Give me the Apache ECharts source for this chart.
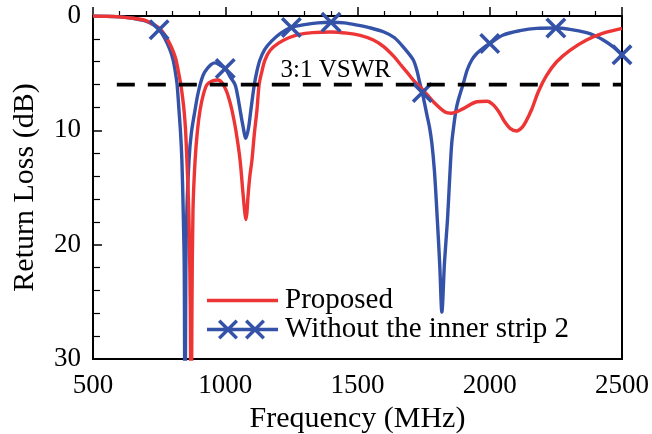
<!DOCTYPE html>
<html>
<head>
<meta charset="utf-8">
<title>Return Loss</title>
<script src="https://cdn.jsdelivr.net/npm/echarts@6/dist/echarts.min.js"></script>
<style>
  html, body { margin: 0; padding: 0; background: #ffffff; }
  #chart { width: 652px; height: 434px; }
</style>
</head>
<body>
<div id="chart"></div>
<script>
// Frequency axis (MHz) and return loss axis (dB)
var xTicks = [500, 1000, 1500, 2000, 2500];
var yTicks = [0, 10, 20, 30];

// Proposed antenna: frequency (MHz) and return loss (dB)
var proposedFreq = [500, 550, 600, 650, 700, 730, 750, 770, 790, 805, 814, 824, 832, 838, 844, 850, 855, 860, 864, 868, 871, 874, 878, 886, 895, 905, 918, 931, 950, 973, 990, 1005, 1015, 1025, 1040, 1056, 1067, 1074, 1078, 1082, 1086, 1093, 1101, 1110, 1120, 1128, 1138, 1150, 1170, 1200, 1240, 1280, 1330, 1400, 1460, 1510, 1560, 1600, 1640, 1661, 1690, 1711, 1749, 1787, 1831, 1855, 1900, 1951, 1990, 2015, 2035, 2055, 2078, 2102, 2120, 2135, 2158, 2184, 2215, 2253, 2303, 2366, 2429, 2500];
var proposedRL = [0, 0.02, 0.08, 0.2, 0.4, 0.75, 1.05, 1.6, 2.4, 3.2, 3.85, 5, 6, 7, 8.2, 10, 12.6, 15.5, 19, 26, 40, 26, 17, 12.6, 10, 8.2, 6.8, 6, 5.7, 5.6, 5.9, 6.6, 7.3, 8.2, 10, 12.6, 15.5, 17.2, 17.8, 17.2, 15.8, 14, 12.6, 10.3, 8.2, 6, 4.9, 3.85, 3, 2.4, 1.9, 1.6, 1.45, 1.4, 1.5, 1.7, 2.1, 2.7, 3.6, 4.2, 5.0, 5.6, 6.5, 7.5, 8.4, 8.5, 8.1, 7.5, 7.45, 7.8, 8.4, 9.2, 9.85, 10.06, 9.8, 9.3, 8.2, 6.6, 5.2, 4.0, 3.0, 2.1, 1.5, 1.08];

// Without the inner strip 2: frequency (MHz) and return loss (dB)
var noStripFreq = [500, 550, 600, 650, 700, 730, 750, 770, 790, 803, 812, 818, 825, 831, 836, 841, 845, 848, 851, 855, 863, 872, 886, 895, 905, 918, 932, 946, 961, 980, 1000, 1018, 1037, 1047, 1056, 1066, 1078, 1088, 1097, 1110, 1120, 1131, 1150, 1175, 1210, 1250, 1300, 1350, 1400, 1450, 1500, 1550, 1600, 1640, 1680, 1711, 1725, 1736, 1745, 1762, 1772, 1781, 1791, 1802, 1811, 1819, 1829, 1840, 1848, 1856, 1864, 1872, 1881, 1900, 1915, 1932, 1950, 1975, 2000, 2051, 2114, 2177, 2250, 2303, 2366, 2400, 2429, 2467, 2500];
var noStripRL = [0, 0.02, 0.08, 0.2, 0.45, 0.8, 1.2, 1.9, 2.9, 3.85, 5, 6, 8.2, 10.2, 12.6, 17, 22, 40, 22, 17, 12.6, 10.2, 8.2, 7, 6, 5.1, 4.6, 4.25, 4.1, 4.3, 4.6, 5.3, 6, 7, 8.2, 9.5, 10.7, 9.8, 8.2, 6, 4.8, 3.85, 2.9, 2.2, 1.5, 1.0, 0.75, 0.6, 0.55, 0.6, 0.8, 1.05, 1.4, 1.9, 2.9, 3.85, 4.8, 5.9, 6.7, 8.6, 9.7, 11.1, 13.6, 17.9, 21.8, 25.9, 21.5, 17.9, 14.4, 11.2, 9.6, 8.3, 7.35, 5.9, 4.7, 3.85, 3.3, 2.8, 2.4, 1.66, 1.28, 1.08, 1.05, 1.17, 1.46, 1.75, 2.1, 2.7, 3.4];
// Frequencies carrying the cross markers on that curve
var noStripMarkerFreq = [750, 1000, 1250, 1400, 1745, 2000, 2250, 2500];

// 3:1 VSWR reference level (dB) and its drawn span (MHz)
var vswrLevel = 6;
var vswrSpan = [590, 2500];

var RED = '#ee3535';
var BLUE = '#3452a8';
var FONT = '"Liberation Serif", "Times New Roman", serif';

function pairs(xs, ys) {
  return xs.map(function (x, i) { return [x, ys[i]]; });
}
var markerData = noStripMarkerFreq.map(function (f) {
  return [f, noStripRL[noStripFreq.indexOf(f)]];
});

// Cross outline centred at cx inside a 20-unit-high box
var d = 2.4;
function crossAt(cx) {
  var x0 = cx - 10;
  return 'M' + x0 + ',' + d + ' L' + (x0 + d) + ',0 L' + (x0 + 10) + ',' + (10 - d) + ' L' + (x0 + 20 - d) + ',0 L' + (x0 + 20) + ',' + d +
    ' L' + (x0 + 10 + d) + ',10 L' + (x0 + 20) + ',' + (20 - d) + ' L' + (x0 + 20 - d) + ',20 L' + (x0 + 10) + ',' + (10 + d) +
    ' L' + (x0 + d) + ',20 L' + x0 + ',' + (20 - d) + ' L' + (x0 + 10 - d) + ',10 Z';
}
var crossPath = 'path://' + crossAt(10);
var legendLineIcon = 'path://M0,0 L71,0 L71,3.4 L0,3.4 Z';
var legendCrossIcon = 'path://M0,8.3 L71,8.3 L71,11.7 L0,11.7 Z ' + crossAt(21) + ' ' + crossAt(48);

var chart = echarts.init(document.getElementById('chart'), null, { renderer: 'canvas' });

chart.setOption({
  animation: false,
  backgroundColor: '#ffffff',
  grid: {
    left: 93, right: 30, top: 16, bottom: 75,
    outerBoundsMode: 'none',
    containLabel: false,
    show: true, borderColor: '#000', borderWidth: 2, backgroundColor: 'transparent'
  },
  legend: {
    left: 202, top: 281,
    orient: 'vertical',
    itemWidth: 71, itemHeight: 20, itemGap: 0,
    symbolKeepAspect: true,
    itemStyle: { borderWidth: 0 },
    textStyle: { fontFamily: FONT, fontSize: 29, color: '#000', padding: [0, 0, 0, 2] },
    data: [
      { name: 'Proposed', icon: legendLineIcon },
      { name: 'Without the inner strip 2', icon: legendCrossIcon }
    ]
  },
  xAxis: {
    type: 'value',
    min: xTicks[0], max: xTicks[xTicks.length - 1], interval: xTicks[1] - xTicks[0],
    name: 'Frequency (MHz)',
    nameLocation: 'middle', nameGap: 43,
    nameTextStyle: { fontFamily: FONT, fontSize: 30, color: '#000' },
    axisLine: { lineStyle: { color: '#000', width: 2 } },
    axisTick: { inside: true, length: 9, lineStyle: { color: '#000', width: 1.5 } },
    minorTick: { show: true, splitNumber: 5, length: 5, lineStyle: { color: '#000', width: 1.2 } },
    splitLine: { show: false },
    axisLabel: {
      fontFamily: FONT, fontSize: 27, color: '#000', margin: 13,
      formatter: function (v) { return String(v); }
    }
  },
  yAxis: {
    type: 'value', inverse: true,
    min: yTicks[0], max: yTicks[yTicks.length - 1], interval: yTicks[1] - yTicks[0],
    name: 'Return Loss (dB)',
    nameLocation: 'middle', nameGap: 53,
    nameTextStyle: { fontFamily: FONT, fontSize: 30, color: '#000' },
    axisLine: { lineStyle: { color: '#000', width: 2 } },
    axisTick: { inside: true, length: 9, lineStyle: { color: '#000', width: 1.5 } },
    minorTick: { show: true, splitNumber: 5, length: 7, lineStyle: { color: '#000', width: 1.2 } },
    splitLine: { show: false },
    axisLabel: {
      fontFamily: FONT, fontSize: 27, color: '#000', margin: 12,
      formatter: function (v) { return String(v); }
    }
  },
  series: [
    {
      name: 'Without the inner strip 2',
      type: 'line',
      data: pairs(noStripFreq, noStripRL),
      showSymbol: false,
      smooth: 0.3,
      clip: true,
      lineStyle: { color: BLUE, width: 3.4 },
      itemStyle: { color: BLUE },
      z: 2
    },
    {
      name: 'Proposed',
      type: 'line',
      data: pairs(proposedFreq, proposedRL),
      showSymbol: false,
      smooth: 0.3,
      clip: true,
      lineStyle: { color: RED, width: 3.4 },
      itemStyle: { color: RED },
      z: 3
    },
    {
      name: 'Without the inner strip 2',
      type: 'scatter',
      data: markerData,
      symbol: crossPath,
      symbolSize: 21,
      clip: false,
      itemStyle: { color: BLUE, opacity: 1 },
      z: 4
    },
    {
      name: '3:1 VSWR',
      type: 'line',
      data: [[vswrSpan[0], vswrLevel], [vswrSpan[1], vswrLevel]],
      showSymbol: false,
      lineStyle: { color: '#000', width: 3.6, type: [18, 13] },
      z: 5,
      markPoint: {
        symbol: 'rect', symbolSize: 1,
        itemStyle: { color: 'rgba(0,0,0,0)' },
        label: {
          show: true, position: 'inside',
          formatter: '3:1 VSWR',
          fontFamily: FONT, fontSize: 25, color: '#000'
        },
        data: [{ coord: [1418, 4.75] }]
      }
    }
  ]
});
</script>
</body>
</html>
